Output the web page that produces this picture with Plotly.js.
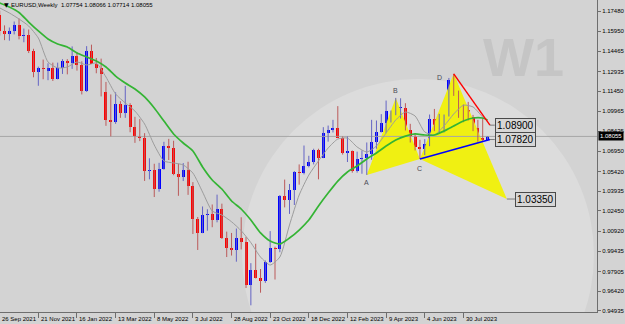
<!DOCTYPE html>
<html><head><meta charset="utf-8">
<script src="https://cdn.plot.ly/plotly-3.0.1.min.js"></script>
<style>html,body{margin:0;padding:0;background:#d3d3d3;}#chart{width:625px;height:324px;}</style>
</head><body><div id="chart"></div>
<script>
const symbolTitle = 'EURUSD,Weekly';
const weeks = ['2021-09-26','2021-10-03','2021-10-10','2021-10-17','2021-10-24','2021-10-31','2021-11-07','2021-11-14','2021-11-21','2021-11-28','2021-12-05','2021-12-12','2021-12-19','2021-12-26',
'2022-01-02','2022-01-09','2022-01-16','2022-01-23','2022-01-30','2022-02-06','2022-02-13','2022-02-20','2022-02-27','2022-03-06','2022-03-13','2022-03-20','2022-03-27','2022-04-03','2022-04-10','2022-04-17','2022-04-24','2022-05-01','2022-05-08','2022-05-15','2022-05-22','2022-05-29','2022-06-05','2022-06-12','2022-06-19','2022-06-26','2022-07-03','2022-07-10','2022-07-17','2022-07-24','2022-07-31','2022-08-07','2022-08-14','2022-08-21','2022-08-28','2022-09-04','2022-09-11','2022-09-18','2022-09-25','2022-10-02','2022-10-09','2022-10-16','2022-10-23','2022-10-30','2022-11-06','2022-11-13','2022-11-20','2022-11-27','2022-12-04','2022-12-11','2022-12-18','2022-12-25',
'2023-01-01','2023-01-08','2023-01-15','2023-01-22','2023-01-29','2023-02-05','2023-02-12','2023-02-19','2023-02-26','2023-03-05','2023-03-12','2023-03-19','2023-03-26','2023-04-02','2023-04-09','2023-04-16','2023-04-23','2023-04-30','2023-05-07','2023-05-14','2023-05-21','2023-05-28','2023-06-04','2023-06-11','2023-06-18','2023-06-25','2023-07-02','2023-07-09','2023-07-16','2023-07-23','2023-07-30','2023-08-06','2023-08-13','2023-08-20','2023-08-27','2023-09-03'];
const open = [1.1718,1.1596,1.1572,1.1600,1.1644,1.1558,1.1567,1.1445,1.1287,1.1318,1.1298,1.1318,1.1240,1.1323,
1.1370,1.1360,1.1413,1.1345,1.1146,1.1450,1.1350,1.1322,1.1140,1.0930,1.0911,1.1050,1.0985,1.1045,1.0877,1.0810,1.0796,1.0545,1.0550,1.0410,1.0560,1.0733,1.0720,1.0520,1.0498,1.0555,1.0430,1.0185,1.0080,1.0212,1.0220,1.0180,1.0260,1.0040,0.9965,0.9955,1.0040,1.0015,0.9690,0.9802,0.9740,0.9720,0.9860,0.9965,0.9960,1.0355,1.0325,1.0400,1.0540,1.0530,1.0585,1.0615,
1.0705,1.0645,1.0830,1.0855,1.0870,1.0797,1.0678,1.0694,1.0547,1.0634,1.0640,1.0670,1.0760,1.0840,1.0905,1.0993,1.0990,1.1020,1.1020,1.0850,1.0805,1.0725,1.0710,1.0750,1.0940,1.0895,1.0910,1.0968,1.1230,1.1125,1.1015,1.1005,1.0950,1.0870,1.0795,1.07754];
const high = [1.1750,1.1640,1.1624,1.1669,1.1692,1.1616,1.1609,1.1464,1.1330,1.1383,1.1355,1.1360,1.1360,1.1386,
1.1386,1.1482,1.1440,1.1370,1.1484,1.1495,1.1395,1.1390,1.1215,1.1121,1.1137,1.1070,1.1185,1.1055,1.0953,1.0936,1.0830,1.0641,1.0600,1.0607,1.0765,1.0787,1.0773,1.0601,1.0605,1.0615,1.0462,1.0200,1.0279,1.0258,1.0294,1.0368,1.0300,1.0090,1.0080,1.0113,1.0198,1.0051,0.9853,0.9999,0.9809,0.9873,1.0094,0.9977,1.0365,1.0481,1.0448,1.0545,1.0595,1.0737,1.0660,1.0713,
1.0713,1.0875,1.0887,1.0930,1.1033,1.0805,1.0805,1.0700,1.0691,1.0700,1.0760,1.0930,1.0925,1.0973,1.1075,1.1000,1.1095,1.1092,1.1055,1.0900,1.0830,1.0780,1.0785,1.0970,1.1012,1.0975,1.0970,1.1245,1.1276,1.1150,1.1045,1.1065,1.0967,1.0930,1.0945,1.08066];
const low = [1.1563,1.1529,1.1525,1.1572,1.1535,1.1513,1.1432,1.1250,1.1186,1.1235,1.1228,1.1222,1.1234,1.1275,
1.1272,1.1313,1.1300,1.1121,1.1140,1.1375,1.1280,1.1106,1.0885,1.0806,1.0900,1.0945,1.0945,1.0837,1.0757,1.0770,1.0471,1.0483,1.0350,1.0390,1.0555,1.0628,1.0514,1.0359,1.0470,1.0366,1.0072,0.9952,1.0078,1.0097,1.0123,1.0160,1.0035,0.9899,0.9910,0.9864,0.9956,0.9666,0.9536,0.9738,0.9631,0.9705,0.9855,0.9730,0.9935,1.0272,1.0223,1.0290,1.0443,1.0520,1.0573,1.0595,
1.0483,1.0642,1.0766,1.0835,1.0795,1.0669,1.0613,1.0533,1.0533,1.0525,1.0516,1.0630,1.0713,1.0835,1.0830,1.0910,1.0965,1.0940,1.0850,1.0760,1.0700,1.0635,1.0665,1.0732,1.0845,1.0835,1.0835,1.0955,1.1110,1.0945,1.0912,1.0925,1.0845,1.0765,1.0770,1.07714];
const close = [1.1596,1.1572,1.1600,1.1644,1.1558,1.1567,1.1445,1.1287,1.1318,1.1315,1.1318,1.1240,1.1323,1.1370,
1.1360,1.1413,1.1345,1.1146,1.1450,1.1350,1.1322,1.1271,1.0930,1.0911,1.1050,1.0985,1.1045,1.0877,1.0810,1.0796,1.0545,1.0550,1.0410,1.0560,1.0733,1.0720,1.0520,1.0498,1.0555,1.0430,1.0185,1.0080,1.0212,1.0220,1.0180,1.0260,1.0040,0.9965,0.9955,1.0040,1.0015,0.9690,0.9802,0.9740,0.9720,0.9860,0.9965,0.9960,1.0355,1.0325,1.0400,1.0540,1.0530,1.0585,1.0615,1.0705,
1.0645,1.0830,1.0855,1.0870,1.0797,1.0678,1.0694,1.0547,1.0634,1.0640,1.0670,1.0760,1.0840,1.0905,1.0993,1.0998,1.1020,1.1020,1.0850,1.0805,1.0725,1.0710,1.0750,1.0940,1.0895,1.0910,1.0968,1.1230,1.1125,1.1015,1.1005,1.0950,1.0870,1.0795,1.0775,1.08055];

const tickWeekIdx = [0,8,16,24,32,40,48,56,64,72,80,88,96];
const tickLabels = ['26 Sep 2021','21 Nov 2021','16 Jan 2022','13 Mar 2022','8 May 2022','3 Jul 2022','28 Aug 2022','23 Oct 2022','18 Dec 2022','12 Feb 2023','9 Apr 2023','4 Jun 2023','30 Jul 2023'];
const priceTicks = [1.17480,1.15950,1.14465,1.12935,1.11450,1.09965,1.08435,1.06950,1.05420,1.03935,1.02450,1.00920,0.99435,0.97905,0.96420,0.94935];

const maIdx = [0,2,4,6,8,10,12,14,16,18,20,22,24,26,28,30,32,34,36,38,40,42,44,46,48,50,52,54,56,58,60,62,64,66,68,70,72,74,76,78,80,82,84,86,88,90,92,94,96,98,100,101];
const grayMA = [1.1771,1.1733,1.1688,1.1635,1.1545,1.1365,1.1320,1.1327,1.1365,1.1342,1.1357,1.1252,1.1124,1.1057,1.0996,1.0899,1.0741,1.0621,1.0606,1.0591,1.0530,1.0388,1.0245,1.0215,1.0164,1.0097,1.0007,0.9899,0.9839,0.9899,1.0140,1.0365,1.0515,1.0621,1.0718,1.0786,1.0793,1.0726,1.0688,1.0733,1.0831,1.0929,1.0989,1.0959,1.0839,1.0816,1.0884,1.0974,1.1040,1.1027,1.0951,1.0921];
const greenMA = [1.1808,1.1778,1.1737,1.1665,1.1598,1.1538,1.1500,1.1477,1.1432,1.1402,1.1372,1.1327,1.1259,1.1207,1.1162,1.1102,1.1019,1.0921,1.0824,1.0756,1.0696,1.0576,1.0478,1.0410,1.0320,1.0260,1.0177,1.0080,1.0019,0.9997,1.0042,1.0102,1.0177,1.0283,1.0380,1.0470,1.0538,1.0583,1.0636,1.0681,1.0733,1.0778,1.0808,1.0824,1.0816,1.0816,1.0846,1.0884,1.0921,1.0944,1.0944,1.0929];

const patternIdx = [76,82,87,94,105];
const patternPrice = [1.0516,1.1095,1.0635,1.1276,1.0335];
const patternNames = ['A','B','C','D'];
const redLineIdx = [94,101.5];
const redLinePrice = [1.1276,1.0890];
const blueLineIdx = [87,101.5];
const blueLinePrice = [1.0635,1.0782];
const levelValues = [1.08900,1.07820,1.03350];
const levelFromIdx = [101.5,101.5,105];
const levelBoxIdx = [102.5,102.5,106.7];

// ---- geometry
const W = 625, H = 324, mR = 28, mB = 12;
const plotW = W - mR, plotH = H - mB;
const xMin = 0.062, xMax = xMin + plotW / 4.83;
const yTop = 1.18307, yBot = yTop - plotH / 1330.6;
const pxX = p => p / plotW;
const pxY = p => 1 - p / plotH;
const idxToPaper = k => (k - xMin) / (xMax - xMin);

const xs = weeks.map((w, i) => i);
const traces = [];

// yellow harmonic triangles
const tri = (a, b, c) => ({
  type: 'scatter', mode: 'lines', fill: 'toself', fillcolor: 'rgb(240,240,18)',
  line: {width: 0, color: 'rgba(0,0,0,0)'},
  x: [patternIdx[a], patternIdx[b], patternIdx[c], patternIdx[a]],
  y: [patternPrice[a], patternPrice[b], patternPrice[c], patternPrice[a]],
  hoverinfo: 'skip', showlegend: false
});
traces.push(tri(0, 1, 2));
traces.push(tri(2, 3, 4));

// bid line
const last = close.length - 1;
traces.push({type: 'scatter', mode: 'lines', x: [xMin, xMax], y: [close[last], close[last]],
  line: {color: '#a6a6a6', width: 1}, hoverinfo: 'skip', showlegend: false});

// wicks
function wicks(up) {
  const x = [], y = [];
  xs.forEach(i => {
    if ((close[i] >= open[i]) === up) { x.push(i, i, null); y.push(low[i], high[i], null); }
  });
  return {type: 'scatter', mode: 'lines', x, y, line: {color: up ? '#6464c4' : '#bb5a5a', width: 1},
    hoverinfo: 'skip', showlegend: false, connectgaps: false};
}
traces.push(wicks(true), wicks(false));

// bodies
function bodies(up) {
  const x = [], base = [], h = [];
  xs.forEach(i => {
    if ((close[i] >= open[i]) === up) {
      x.push(i); base.push(Math.min(open[i], close[i]));
      h.push(Math.max(Math.abs(close[i] - open[i]), 0.0004));
    }
  });
  return {type: 'bar', x, y: h, base, width: 0.62, marker: {color: up ? '#0000ff' : '#ff0000', line: {width: 0}},
    hoverinfo: 'skip', showlegend: false};
}
traces.push(bodies(true), bodies(false));

// moving averages
traces.push({type: 'scatter', mode: 'lines', x: maIdx, y: grayMA, line: {color: '#9c9c9c', width: 1, shape: 'spline', smoothing: 0.6},
  hoverinfo: 'skip', showlegend: false});
traces.push({type: 'scatter', mode: 'lines', x: maIdx, y: greenMA, line: {color: '#34b434', width: 1.7, shape: 'spline', smoothing: 0.6},
  hoverinfo: 'skip', showlegend: false});

// trend lines
traces.push({type: 'scatter', mode: 'lines', x: redLineIdx, y: redLinePrice, line: {color: '#ff0000', width: 1.4}, hoverinfo: 'skip', showlegend: false});
traces.push({type: 'scatter', mode: 'lines', x: blueLineIdx, y: blueLinePrice, line: {color: '#0000ff', width: 1.6}, hoverinfo: 'skip', showlegend: false});
// connectors
levelValues.forEach((v, j) => {
  traces.push({type: 'scatter', mode: 'lines', x: [levelFromIdx[j], levelBoxIdx[j]], y: [v, v],
    line: {color: '#7a7a7a', width: 1}, hoverinfo: 'skip', showlegend: false});
});

const font = 'Liberation Sans, Arial, sans-serif';
const annotations = [];
// watermark
annotations.push({xref: 'paper', yref: 'paper', x: pxX(523), y: pxY(57), text: '<b>W1</b>', showarrow: false,
  font: {family: font, size: 54, color: '#c5c5c5'}, xanchor: 'center', yanchor: 'middle'});
// header
annotations.push({xref: 'paper', yref: 'paper', x: pxX(1.5), y: pxY(4.5), text: '▼', showarrow: false,
  font: {family: 'DejaVu Sans', size: 6, color: '#000'}, xanchor: 'left', yanchor: 'middle'});
annotations.push({xref: 'paper', yref: 'paper', x: pxX(9), y: pxY(5), showarrow: false,
  text: symbolTitle + '  ' + [open[last], high[last], low[last], close[last]].map(v => v.toFixed(5)).join(' '),
  font: {family: font, size: 6, color: '#000'}, xanchor: 'left', yanchor: 'middle'});
// x labels
tickWeekIdx.forEach((k, j) => {
  annotations.push({xref: 'paper', yref: 'paper', x: idxToPaper(k), y: 0, text: tickLabels[j], showarrow: false,
    xanchor: 'left', yanchor: 'top', xshift: 0.5, yshift: -1.5, font: {family: font, size: 6, color: '#000'}});
});
// pattern letters
const letterShift = [[0, -8], [0, 7], [0, -9], [-14, -4]];
patternNames.forEach((n, j) => {
  annotations.push({x: patternIdx[j], y: patternPrice[j], text: n, showarrow: false, xshift: letterShift[j][0], yshift: letterShift[j][1],
    font: {family: font, size: 7, color: '#4a4a55'}, xanchor: 'center', yanchor: 'middle'});
});
// level boxes
levelValues.forEach((v, j) => {
  annotations.push({x: levelBoxIdx[j], y: v, text: v.toFixed(5), showarrow: false, xanchor: 'left', yanchor: 'middle',
    font: {family: font, size: 10, color: '#000'}, bgcolor: '#d6d6d6', bordercolor: '#4a4a4a', borderwidth: 1, borderpad: 1});
});
// current price label
annotations.push({xref: 'paper', x: 1, y: close[last], text: close[last].toFixed(5), showarrow: false, xanchor: 'left', yanchor: 'middle',
  xshift: 1, font: {family: font, size: 6, color: '#ffffff'}, bgcolor: '#000000', borderpad: 1});

const layout = {
  width: W, height: H, margin: {l: 0, r: mR, t: 0, b: mB, pad: 0},
  paper_bgcolor: '#d3d3d3', plot_bgcolor: '#d3d3d3',
  showlegend: false, hovermode: false, barmode: 'overlay', bargap: 0,
  xaxis: {type: 'linear', range: [xMin, xMax], showgrid: false, zeroline: false, showline: true, linecolor: '#6e6e6e', linewidth: 1,
    ticks: 'outside', ticklen: 5, tickcolor: '#6e6e6e', tickvals: tickWeekIdx, showticklabels: false, fixedrange: true},
  yaxis: {side: 'right', range: [yBot, yTop], showgrid: false, zeroline: false, showline: true, linecolor: '#6e6e6e', linewidth: 1,
    ticks: 'outside', ticklen: 3, tickcolor: '#6e6e6e', tickvals: priceTicks, ticktext: priceTicks.map(v => v.toFixed(5)),
    tickfont: {family: font, size: 6, color: '#000'}, fixedrange: true},
  shapes: [
    {type: 'circle', xref: 'x', yref: 'y', layer: 'below', x0: xMin + 242 / 4.83, x1: xMin + 594 / 4.83,
      y0: yTop - 431 / 1330.6, y1: yTop - 79 / 1330.6, fillcolor: '#dcdcdc', line: {width: 0}}
  ],
  annotations
};
Plotly.newPlot('chart', traces, layout, {staticPlot: true, displayModeBar: false});
</script></body></html>
